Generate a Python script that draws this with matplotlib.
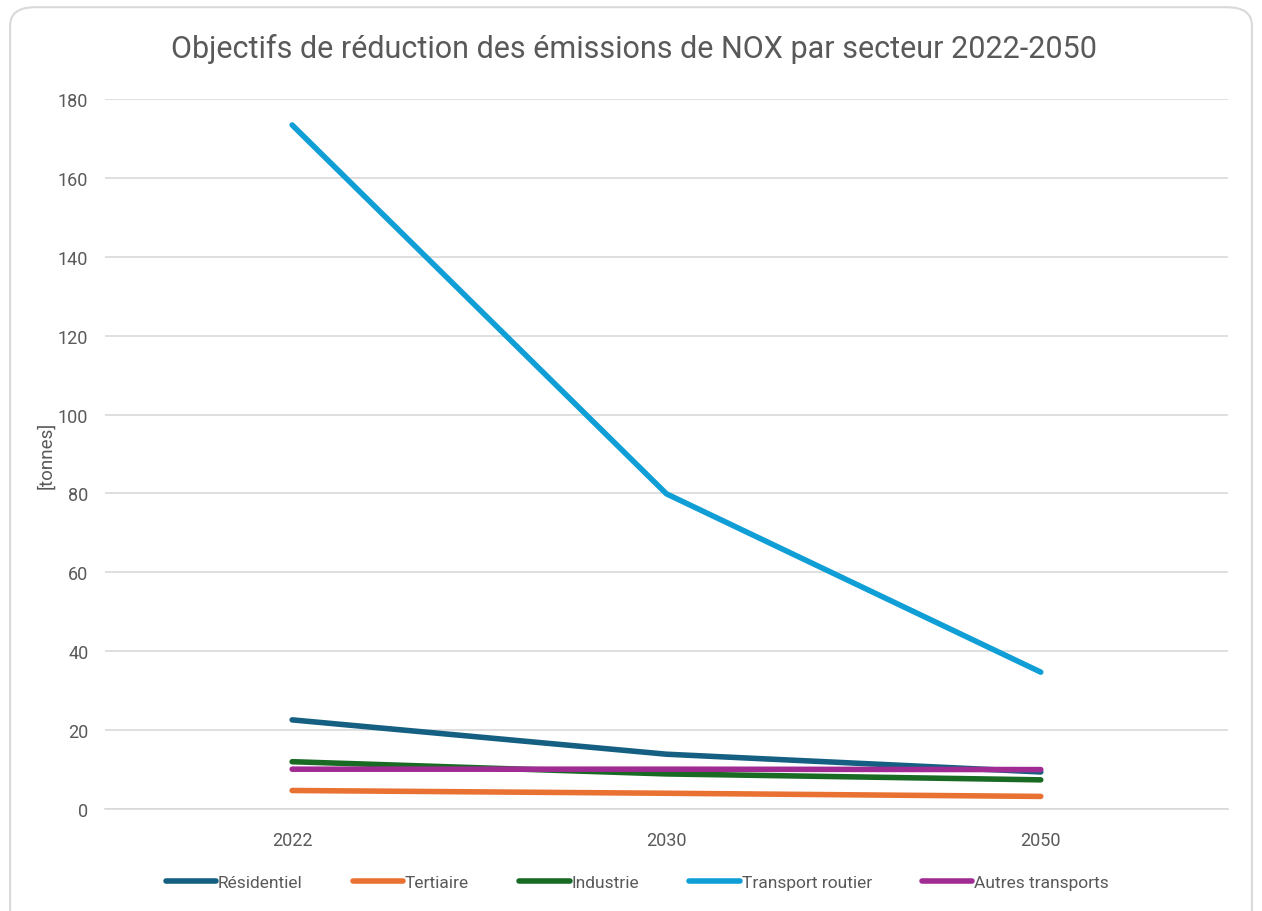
import numpy as np
import matplotlib.pyplot as plt
from matplotlib.patches import FancyBboxPatch

plt.rcParams['font.family'] = ['Roboto', 'DejaVu Sans']

# Donnees
annees = ['2022', '2030', '2050']
residentiel = [22.6, 13.9, 9.4]
tertiaire = [4.7, 4.0, 3.2]
industrie = [12.0, 8.9, 7.4]
transport_routier = [173.4, 79.9, 34.7]
autres_transports = [10.1, 10.1, 10.0]

series = ['Résidentiel', 'Tertiaire', 'Industrie', 'Transport routier', 'Autres transports']
valeurs = [residentiel, tertiaire, industrie, transport_routier, autres_transports]
couleurs = ['#156082', '#E97132', '#196B24', '#0F9ED5', '#A02B93']

gris = '#595959'

fig = plt.figure(figsize=(12.62, 9.12), dpi=100)
fig.patches.append(FancyBboxPatch((0.008, -0.02), 0.984, 1.011, boxstyle='round,pad=0,rounding_size=0.02',
                                  transform=fig.transFigure, facecolor='white',
                                  edgecolor='#D9D9D9', linewidth=1.5, zorder=-10))
ax = fig.add_axes([0.0832, 0.1118, 0.8898, 0.7786])
ax.set_facecolor('none')

x = np.arange(len(annees))
for nom, v, c in zip(series, valeurs, couleurs):
    ax.plot(x, v, color=c, linewidth=4, solid_capstyle='round', label=nom)

ax.set_xlim(-0.5, 2.5)
ax.set_ylim(0, 180)
ax.set_yticks(np.arange(0, 181, 20))
ax.set_xticks(x)
ax.set_xticklabels(annees)
ax.grid(axis='y', color='#D9D9D9', linewidth=1.2)
ax.set_axisbelow(True)
for s in ['top', 'right', 'left']:
    ax.spines[s].set_visible(False)
ax.spines['bottom'].set_color('#D9D9D9')
ax.spines['bottom'].set_linewidth(1.2)
ax.tick_params(axis='both', length=0, colors=gris, labelsize=13)
ax.tick_params(axis='x', pad=16)
ax.tick_params(axis='y', pad=12)
ax.set_ylabel('[tonnes]', color=gris, fontsize=13.5, labelpad=2)

fig.suptitle('Objectifs de réduction des émissions de NOX par secteur 2022-2050',
             x=0.502, y=0.963, fontsize=22, color=gris)

leg = fig.legend(loc='center', bbox_to_anchor=(0.505, 0.031), ncol=5, frameon=False,
                 fontsize=12.5, handlelength=2.9, handletextpad=0.1, columnspacing=2.9)
for t in leg.get_texts():
    t.set_color(gris)

fig.savefig('out.png', dpi=100)
